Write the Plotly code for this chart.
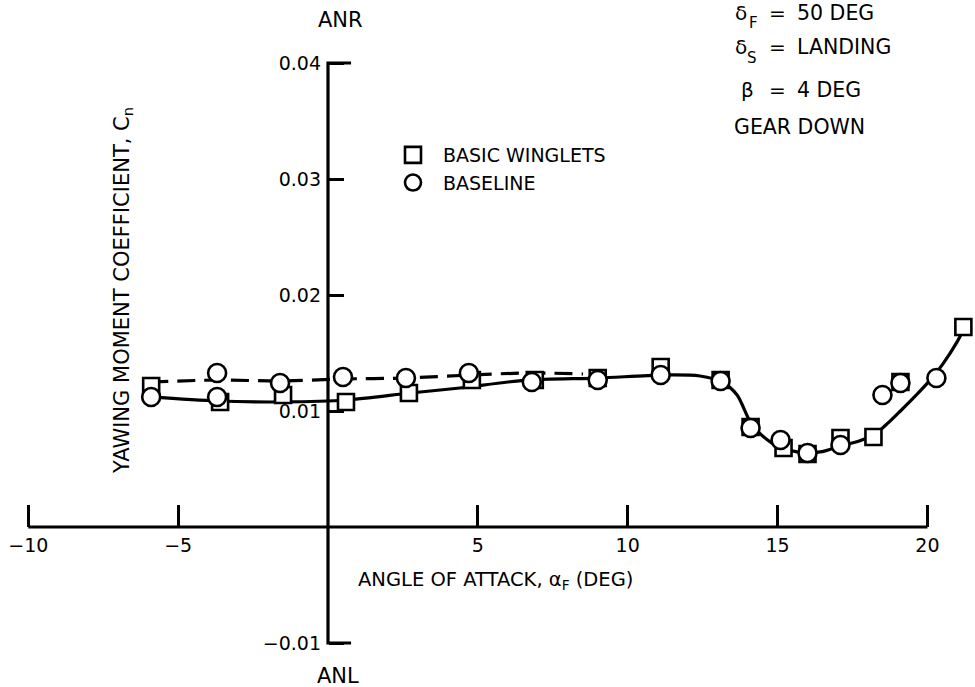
import plotly.graph_objects as go

# Yawing moment coefficient vs. angle of attack
# Basic winglets (square symbols)
winglet_alpha = [-5.9, -3.6, -1.5, 0.6, 2.7, 4.8, 6.9, 9.0, 11.1, 13.1, 14.1, 15.2,
                 16.0, 17.1, 18.2, 19.1, 21.2]
winglet_cn = [0.01216, 0.01078, 0.01138, 0.01078, 0.01155, 0.01267, 0.01267, 0.01284,
              0.01379, 0.01267, 0.00862, 0.00681, 0.00629, 0.00767, 0.00776, 0.01250,
              0.01724]

# Baseline (circle symbols)
baseline_alpha = [-5.9, -3.7, -3.7, -1.6, 0.5, 2.6, 4.7, 6.8, 9.0, 11.1, 13.1, 14.1,
                  15.1, 16.0, 17.1, 18.5, 19.1, 20.3]
baseline_cn = [0.01121, 0.01328, 0.01121, 0.01241, 0.01293, 0.01284, 0.01328, 0.01250,
               0.01267, 0.01310, 0.01259, 0.00853, 0.00750, 0.00638, 0.00707, 0.01138,
               0.01241, 0.01284]

# Faired curves through the data
solid_alpha = [-5.94, -3.70, -1.50, 0.63, 2.74, 4.40, 6.64, 9.01, 11.14, 12.41, 13.15,
               13.65, 14.15, 14.81, 15.65, 16.42, 17.08, 17.70, 18.25, 18.70, 19.10,
               19.60, 20.00, 20.50, 21.00, 21.25]
solid_cn = [0.01121, 0.01086, 0.01078, 0.01095, 0.01155, 0.01198, 0.01267, 0.01284,
            0.01310, 0.01302, 0.01250, 0.01138, 0.00879, 0.00724, 0.00647, 0.00647,
            0.00698, 0.00740, 0.00800, 0.00900, 0.01000, 0.01130, 0.01240, 0.01400,
            0.01600, 0.01724]
dashed_alpha = [-5.94, -3.70, -1.60, 0.47, 2.57, 4.74, 6.74, 8.51]
dashed_cn = [0.01250, 0.01267, 0.01259, 0.01276, 0.01284, 0.01310, 0.01328, 0.01319]

# Axis ticks
x_ticks = [-10, -5, 5, 10, 15, 20]
x_tick_labels = ["\u221210", "\u22125", "5", "10", "15", "20"]
y_ticks = [0.04, 0.03, 0.02, 0.01, -0.01]
y_tick_labels = ["0.04", "0.03", "0.02", "0.01", "\u22120.01"]

W, H = 975, 687
X_RANGE = [-10.944, 21.588]
Y_RANGE = [-0.013793, 0.045431]
FONT = "DejaVu Sans"
INK = "black"


def px(x):
    return x / W


def py(y):
    return 1 - y / H


def frac(v, rng):
    return (v - rng[0]) / (rng[1] - rng[0])


fig = go.Figure()

fig.add_trace(go.Scatter(x=dashed_alpha, y=dashed_cn, mode="lines", showlegend=False,
                         line=dict(color=INK, width=3.2, dash="18px,9px",
                                   shape="spline", smoothing=0.8),
                         hoverinfo="skip"))
fig.add_trace(go.Scatter(x=solid_alpha, y=solid_cn, mode="lines", showlegend=False,
                         line=dict(color=INK, width=3.2, shape="spline", smoothing=0.8),
                         hoverinfo="skip"))
fig.add_trace(go.Scatter(x=winglet_alpha, y=winglet_cn, mode="markers",
                         name="BASIC WINGLETS",
                         marker=dict(symbol="square", size=16, color="white",
                                     line=dict(color=INK, width=2.6))))
fig.add_trace(go.Scatter(x=baseline_alpha, y=baseline_cn, mode="markers",
                         name="BASELINE",
                         marker=dict(symbol="circle", size=18, color="white",
                                     line=dict(color=INK, width=2.6))))

# Axis lines crossing at the origin, with end caps on the vertical axis
cap = 0.77
fig.add_shape(type="line", x0=-10, x1=20, y0=0, y1=0,
              line=dict(color=INK, width=3))
fig.add_shape(type="path",
              path=f"M {cap},0.04 L 0,0.04 L 0,-0.01 L {cap},-0.01",
              line=dict(color=INK, width=3.2))

fig.update_layout(
    width=W, height=H,
    margin=dict(l=0, r=0, t=0, b=0),
    paper_bgcolor="white", plot_bgcolor="white",
    font=dict(family=FONT, size=19, color=INK),
    xaxis=dict(range=X_RANGE, anchor="free", position=frac(0, Y_RANGE),
               side="bottom", showgrid=False, zeroline=False, showline=False,
               tickvals=x_ticks, ticktext=x_tick_labels,
               ticks="inside", ticklen=22, tickwidth=2.6, tickcolor=INK,
               ticklabelstandoff=5,
               tickfont=dict(family=FONT, size=19, color=INK)),
    yaxis=dict(range=Y_RANGE, anchor="free", position=frac(0, X_RANGE),
               side="left", showgrid=False, zeroline=False, showline=False,
               tickvals=y_ticks, ticktext=y_tick_labels,
               ticks="inside", ticklen=15, tickwidth=2.6, tickcolor=INK,
               ticklabelstandoff=7,
               tickfont=dict(family=FONT, size=19, color=INK)),
    legend=dict(x=px(383), y=py(136), xanchor="left", yanchor="top",
                bgcolor="rgba(0,0,0,0)", borderwidth=0, itemwidth=50,
                font=dict(family=FONT, size=19, color=INK),
                itemsizing="trace", tracegroupgap=0),
    showlegend=True,
)

notes = [
    # text, x px, y px, xanchor, size
    ("ANR", 340, 20, "center", 21),
    ("ANL", 338, 676, "center", 21),
    ("ANGLE OF ATTACK, \u03b1<sub>F</sub> (DEG)", 356, 580, "left", 19.5),
    ("\u03b4", 733, 13, "left", 20),
    ("F", 753, 23, "center", 15),
    ("=", 777, 13, "center", 20),
    ("50 DEG", 795, 13, "left", 20.5),
    ("\u03b4", 733, 47, "left", 20),
    ("S", 752, 58, "center", 15),
    ("=", 777, 47, "center", 20),
    ("LANDING", 795, 47, "left", 20.5),
    ("\u03b2", 747, 90, "center", 20),
    ("=", 777, 90, "center", 20),
    ("4 DEG", 795, 90, "left", 20.5),
    ("GEAR DOWN", 732, 127, "left", 20.5),
]
for text, x, y, xa, size in notes:
    fig.add_annotation(text=text, x=px(x), y=py(y), xref="paper", yref="paper",
                       xanchor=xa, yanchor="middle", showarrow=False,
                       font=dict(family=FONT, size=size, color=INK))

fig.add_annotation(text="YAWING MOMENT COEFFICIENT, C<sub>n</sub>",
                   x=px(123), y=py(290), xref="paper", yref="paper",
                   xanchor="center", yanchor="middle", textangle=-90,
                   showarrow=False, font=dict(family=FONT, size=21, color=INK))

fig.write_html("out.html")
